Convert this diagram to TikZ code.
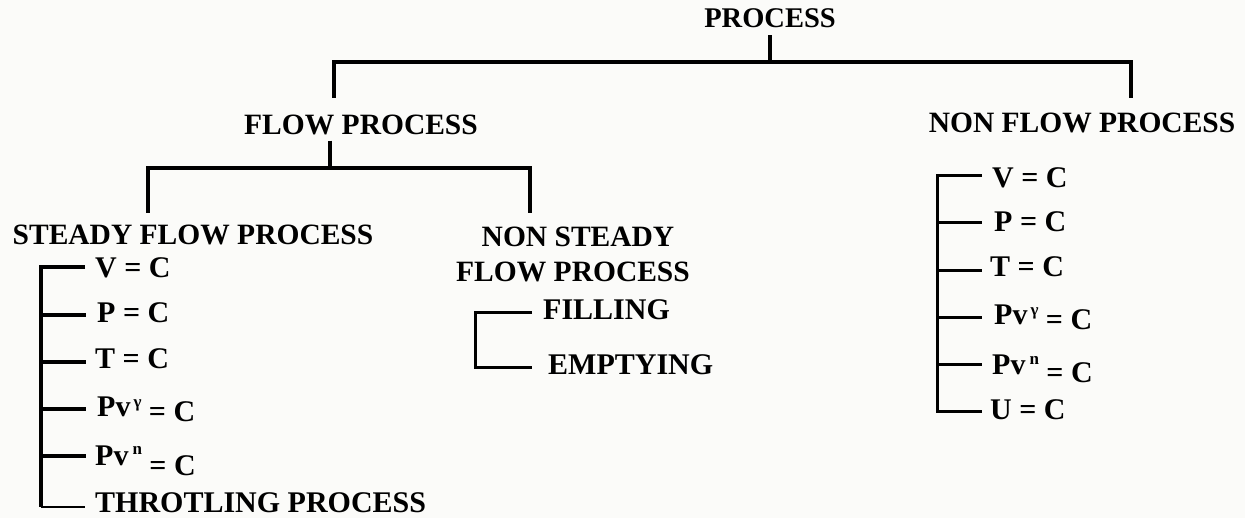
\documentclass[tikz,border=0pt]{standalone}
\usepackage{fontspec}
\setmainfont{Liberation Serif}
\begin{document}
\begin{tikzpicture}[x=1pt,y=-1pt,
  hd/.style={font=\fontsize{29.5}{34}\selectfont\bfseries, inner sep=0pt, anchor=base},
  item/.style={font=\fontsize{30}{34}\selectfont\bfseries, inner sep=0pt, anchor=base west},
  sup/.style={},
  main/.style={line width=4.5pt, line join=miter},
  brk/.style={line width=3.5pt, line join=miter},
  thin/.style={line width=2.2pt}]
\useasboundingbox[fill={rgb,255:red,251;green,251;blue,249}] (0,0) rectangle (1245,518);

% headers
\node[hd, font=\fontsize{28.5}{34}\selectfont\bfseries] (proc) at (770,28) {PROCESS};
\node[hd] (flow) at (361,135) {FLOW PROCESS};
\node[hd] (nflow) at (1082,133) {NON FLOW PROCESS};
\node[hd] (sfp) at (193,245) {STEADY FLOW PROCESS};
\node[hd] (nsa) at (578,247) {NON STEADY};
\node[hd] (nsb) at (573,282) {FLOW PROCESS};

% top level connectors
\coordinate (pj) at (770,62);
\coordinate (pl) at (334,62);
\coordinate (pr) at (1131,62);
\coordinate (fd) at (334,98);
\coordinate (nd) at (1131,98);
\draw[main] ([yshift=-7pt]pj |- proc.south) -- (pj);
\draw[main] (fd) -- (pl) -- (pr) -- (nd);

% flow process connectors
\coordinate (fj) at (330,168);
\coordinate (fl) at (148,168);
\coordinate (fr) at (530,168);
\coordinate (sd) at (148,213);
\coordinate (nsd) at (530,213);
\draw[main] ([yshift=-5pt]fj |- flow.south) -- (fj);
\draw[main] (sd) -- (fl) -- (fr) -- (nsd);

% steady flow list
\node[item] (s1) at (95,278) {V = C};
\node[item] (s2) at (97,323) {P = C};
\node[item] (s3) at (95,369) {T = C};
\node[item] (s4) at (97,417) {Pv\kern3pt\raisebox{9pt}{\fontsize{17}{17}\selectfont γ}\raisebox{-5pt}{ = C}};
\node[item] (s5) at (95,465) {Pv\kern4pt\raisebox{11pt}{\fontsize{17}{17}\selectfont n}\raisebox{-10pt}{ = C}};
\node[item] (s6) at (95,512) {THROTLING PROCESS};
\coordinate (sv) at (41,267);
\coordinate (sb) at (41,507);
\draw[brk] ([xshift=-10pt]s1.west |- 0,267) -- (sv) -- (sb);
\draw[thin] (sb) -- ([xshift=-10pt]s6.west |- 0,507);
\draw[brk] (41,315) -- (86,315);
\draw[brk] (41,362) -- (86,362);
\draw[brk] (41,409) -- (86,409);
\draw[brk] (41,456) -- (86,456);

% non steady list
\node[item] (f1) at (543,320) {FILLING};
\node[item] (f2) at (548,375) {EMPTYING};
\coordinate (ft) at (475,313);
\coordinate (fb) at (475,368);
\draw[brk, line width=3pt] (532,313) -- (ft) -- (fb) -- (532,368);

% non flow list
\node[item] (n1) at (992,188) {V = C};
\node[item] (n2) at (994,232) {P = C};
\node[item] (n3) at (990,277) {T = C};
\node[item] (n4) at (994,325) {Pv\kern3pt\raisebox{9pt}{\fontsize{17}{17}\selectfont γ}\raisebox{-5pt}{ = C}};
\node[item] (n5) at (992,375) {Pv\kern4pt\raisebox{10pt}{\fontsize{17}{17}\selectfont n}\raisebox{-8pt}{ = C}};
\node[item] (n6) at (990,420) {U = C};
\coordinate (nv) at (937,176);
\coordinate (nb) at (937,412);
\draw[brk, line width=3pt] (982,176) -- (nv) -- (nb) -- (982,412);
\draw[brk, line width=3pt] (937,223) -- (982,223);
\draw[brk, line width=3pt] (937,271) -- (982,271);
\draw[brk, line width=3pt] (937,318) -- (982,318);
\draw[brk, line width=3pt] (937,365) -- (982,365);
\end{tikzpicture}
\end{document}
